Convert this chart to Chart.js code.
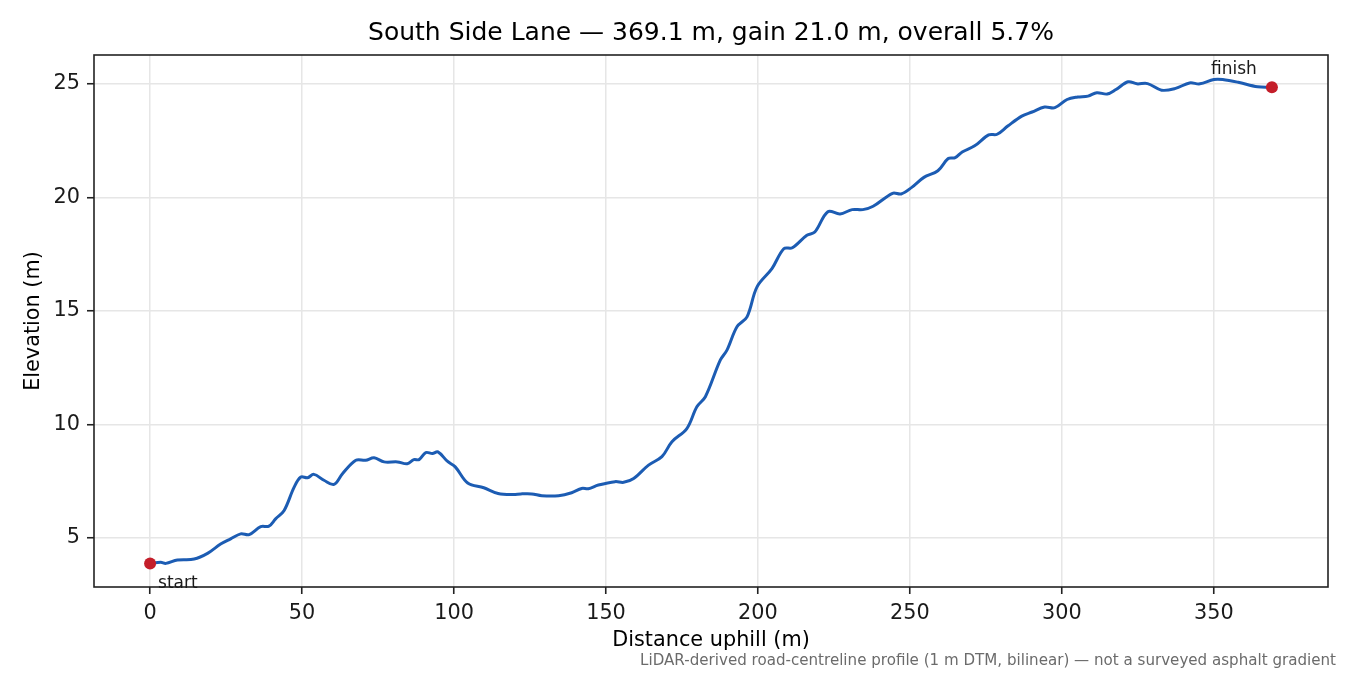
<!DOCTYPE html>
<html>
<head>
<meta charset="utf-8">
<title>South Side Lane profile</title>
<script src="https://cdn.jsdelivr.net/npm/chart.js@4/dist/chart.umd.min.js"></script>
<style>
  html, body { margin: 0; padding: 0; background: #fff; }
  #wrap { width: 1350px; height: 675px; }
</style>
</head>
<body>
<div id="wrap"><canvas id="profileChart" width="1350" height="675"></canvas></div>
<script>
// profile, metres along the road / metres above datum
const distance = [
  0, 3.5, 5.2, 9.0, 14.5, 18.9, 23.2, 26.5, 29.8, 32.6,
  36.4, 39.1, 41.3, 44.1, 47.4, 49.6, 51.8, 53.9, 57.2, 60.5,
  63.3, 67.7, 70.9, 73.7, 77.0, 81.4, 84.6, 86.8, 88.5, 90.7,
  92.9, 94.7, 97.8, 100.4, 104.5, 109.8, 114.5, 119.5, 122.0, 125.6,
  128.9, 134.4, 138.7, 142.0, 144.2, 147.5, 153.0, 155.8, 159.1, 164.0,
  168.4, 171.7, 176.6, 179.9, 182.7, 187.6, 189.8, 193.1, 196.4, 199.7,
  204.6, 208.5, 211.3, 216.1, 218.7, 223.0, 227.0, 231.0, 234.5, 237.9,
  244.3, 247.1, 250.6, 254.6, 259.2, 262.6, 264.9, 267.2, 271.3, 275.9,
  278.7, 282.2, 286.8, 290.2, 294.3, 297.7, 301.7, 305.2, 308.6, 311.5,
  314.9, 317.8, 321.8, 324.7, 328.2, 332.8, 337.4, 342.0, 345.4, 350.0,
  352.9, 358.0, 364.4, 369.1
];
const elevation = [
  3.88, 3.93, 3.88, 4.03, 4.07, 4.32, 4.73, 4.96, 5.18, 5.15,
  5.50, 5.52, 5.84, 6.21, 7.24, 7.68, 7.65, 7.80, 7.54, 7.36,
  7.83, 8.42, 8.42, 8.53, 8.35, 8.35, 8.27, 8.45, 8.45, 8.76,
  8.72, 8.79, 8.38, 8.13, 7.42, 7.21, 6.96, 6.91, 6.94, 6.94,
  6.86, 6.86, 6.99, 7.18, 7.17, 7.33, 7.48, 7.45, 7.62, 8.21,
  8.58, 9.24, 9.82, 10.78, 11.22, 12.83, 13.27, 14.30, 14.74, 16.06,
  16.86, 17.74, 17.78, 18.33, 18.47, 19.37, 19.27, 19.46, 19.46, 19.61,
  20.18, 20.15, 20.44, 20.88, 21.17, 21.71, 21.75, 22.00, 22.27, 22.75,
  22.78, 23.14, 23.58, 23.76, 23.98, 23.95, 24.31, 24.42, 24.46, 24.61,
  24.55, 24.75, 25.09, 25.00, 25.01, 24.72, 24.80, 25.04, 25.00, 25.19,
  25.19, 25.07, 24.87, 24.85
];
const xTicks = [0, 50, 100, 150, 200, 250, 300, 350];
const yTicks = [5, 10, 15, 20, 25];
const xRange = [-18.455, 387.555];
const yRange = [2.84, 26.27];
const markerLabels = ['start', 'finish'];
const titleText = 'South Side Lane — 369.1 m, gain 21.0 m, overall 5.7%';
const footnote = 'LiDAR-derived road-centreline profile (1 m DTM, bilinear) — not a surveyed asphalt gradient';

const profilePts = distance.map((d, i) => ({ x: d, y: elevation[i] }));
const last = distance.length - 1;
const endPts = [
  { x: distance[0], y: elevation[0] },
  { x: distance[last], y: elevation[last] }
];

Chart.defaults.font.family = '"DejaVu Sans", sans-serif';
Chart.defaults.color = '#1a1a1a';

// frame on all four sides, start/finish labels, footnote
const extras = {
  id: 'extras',
  afterDatasetsDraw(chart) {
    const { ctx, chartArea: a } = chart;
    ctx.save();
    ctx.strokeStyle = '#222';
    ctx.lineWidth = 1.6;
    ctx.strokeRect(a.left, a.top, a.right - a.left, a.bottom - a.top);

    const pts = chart.getDatasetMeta(0).data;
    ctx.fillStyle = '#1a1a1a';
    ctx.font = '17px "DejaVu Sans"';
    ctx.textBaseline = 'alphabetic';
    ctx.textAlign = 'left';
    ctx.fillText(markerLabels[0], pts[0].x + 8, pts[0].y + 25);
    ctx.textAlign = 'center';
    ctx.fillText(markerLabels[1], pts[1].x - 38, pts[1].y - 13);

    ctx.font = '15.1px "DejaVu Sans"';
    ctx.fillStyle = '#6b6b6b';
    ctx.textAlign = 'right';
    ctx.fillText(footnote, 1336, 665);
    ctx.restore();
  }
};

const gridStyle = {
  color: '#e6e6e6',
  lineWidth: 1.5,
  drawTicks: true,
  tickLength: 7,
  tickColor: '#222',
  tickWidth: 1.6
};

new Chart(document.getElementById('profileChart').getContext('2d'), {
  type: 'line',
  data: {
    datasets: [
      {
        label: 'ends',
        data: endPts,
        showLine: false,
        pointRadius: 6,
        pointBackgroundColor: '#c41e2a',
        pointBorderWidth: 0,
        order: 1
      },
      {
        label: 'Elevation',
        data: profilePts,
        borderColor: '#1c5cb3',
        borderWidth: 3,
        pointRadius: 0,
        tension: 0.35,
        fill: false,
        order: 2
      }
    ]
  },
  options: {
    responsive: false,
    devicePixelRatio: 1,
    animation: false,
    layout: { padding: { left: 0, right: 22, top: 0, bottom: 0 } },
    plugins: {
      legend: { display: false },
      tooltip: { enabled: false },
      title: {
        display: true,
        fullSize: false,
        text: titleText,
        color: '#000',
        font: { size: 25, weight: 'normal' },
        padding: { top: 18, bottom: 7 }
      }
    },
    scales: {
      x: {
        type: 'linear',
        min: xRange[0],
        max: xRange[1],
        afterBuildTicks: s => { s.ticks = xTicks.map(v => ({ value: v })); },
        afterFit: s => { s.height = 88; s.paddingLeft = 0; s.paddingRight = 0; },
        ticks: { padding: 7, font: { size: 20.8 }, maxRotation: 0, autoSkip: false },
        grid: gridStyle,
        border: { display: false },
        title: {
          display: true,
          text: 'Distance uphill (m)',
          color: '#000',
          font: { size: 20.8 },
          padding: { top: 0, bottom: 22 }
        }
      },
      y: {
        type: 'linear',
        min: yRange[0],
        max: yRange[1],
        afterBuildTicks: s => { s.ticks = yTicks.map(v => ({ value: v })); },
        afterFit: s => { s.width = 94; s.paddingTop = 0; s.paddingBottom = 0; },
        ticks: { padding: 7, font: { size: 20.8 }, autoSkip: false },
        grid: gridStyle,
        border: { display: false },
        title: {
          display: true,
          text: 'Elevation (m)',
          color: '#000',
          font: { size: 20.8 },
          padding: { top: 21, bottom: 0 }
        }
      }
    }
  },
  plugins: [extras]
});
</script>
</body>
</html>
